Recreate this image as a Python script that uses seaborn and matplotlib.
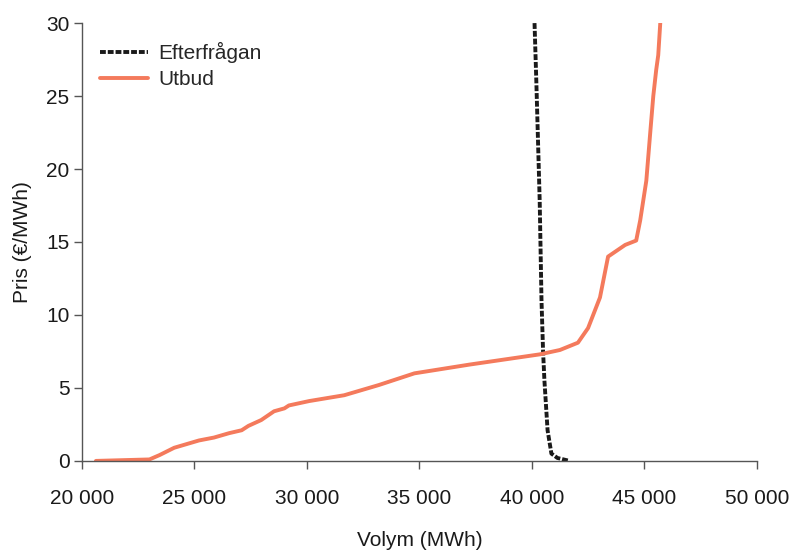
import matplotlib
matplotlib.use("Agg")
import matplotlib.pyplot as plt
import seaborn as sns
import pandas as pd
from matplotlib.ticker import FuncFormatter

supply_volume = [20620, 23000, 23450, 24100, 25200, 25870, 26540, 27100, 27400, 27970,
                 28540, 29000, 29200, 30100, 31660, 33200, 34780, 37230, 40350, 41250,
                 42050, 42500, 43030, 43390, 44150, 44640, 44820, 45090, 45270, 45400,
                 45530, 45620, 45710]
supply_price = [0.0, 0.1, 0.4, 0.9, 1.4, 1.6, 1.9, 2.1, 2.4, 2.8,
                3.4, 3.6, 3.8, 4.1, 4.5, 5.2, 6.0, 6.6, 7.3, 7.6,
                8.1, 9.1, 11.2, 14.0, 14.8, 15.1, 16.5, 19.2, 22.6, 25.0,
                26.8, 27.8, 30.0]

demand_volume = [40120, 40200, 40350, 40430, 40500, 40560, 40700, 40870, 41140, 41680]
demand_price = [30.0, 26.0, 17.8, 11.0, 7.5, 5.5, 2.1, 0.5, 0.2, 0.0]

labels = ["Efterfrågan", "Utbud"]

sns.set_theme(style="white")
plt.rcParams['font.family'] = ['Liberation Sans', 'DejaVu Sans']

fig = plt.figure(figsize=(7.92, 5.5), dpi=100)
ax = fig.add_axes([0.1035, 0.162, 0.852, 0.796])

df_d = pd.DataFrame({"Volym": demand_volume, "Pris": demand_price})
df_s = pd.DataFrame({"Volym": supply_volume, "Pris": supply_price})

sns.lineplot(data=df_d, x="Volym", y="Pris", sort=False, ax=ax, color="#1a1a1a",
             linewidth=2.8, linestyle=(0, (1.5, 0.5)), label=labels[0])
sns.lineplot(data=df_s, x="Volym", y="Pris", sort=False, ax=ax, color="#F47A5C",
             linewidth=2.8, label=labels[1])

ax.set_xlim(20000, 50000)
ax.set_ylim(0, 30)
ax.set_xticks(range(20000, 50001, 5000))
ax.set_yticks(range(0, 31, 5))
ax.xaxis.set_major_formatter(FuncFormatter(lambda v, p: f"{int(v):,}".replace(",", " ")))

for s in ["top", "right"]:
    ax.spines[s].set_visible(False)
for s in ["left", "bottom"]:
    ax.spines[s].set_color("#555555")
    ax.spines[s].set_linewidth(1.0)
ax.tick_params(axis="both", direction="out", length=6, width=1, color="#555555",
               labelsize=15, labelcolor="#1a1a1a", bottom=True, left=True)
ax.tick_params(axis="x", pad=14)
ax.tick_params(axis="y", pad=3)

ax.set_xlabel("Volym (MWh)", fontsize=15, color="#1a1a1a", labelpad=17)
ax.set_ylabel("Pris (€/MWh)", fontsize=15, color="#1a1a1a", labelpad=10)

leg = ax.legend(loc="upper left", bbox_to_anchor=(-0.001, 1.0), frameon=False,
                fontsize=15, handlelength=2.3, handletextpad=0.5, labelspacing=0.35)

fig.savefig("out.png", dpi=100)
